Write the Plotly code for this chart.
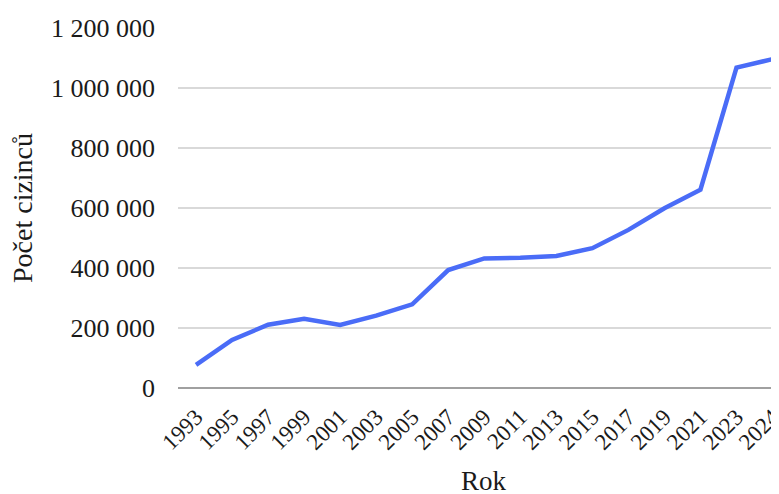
import plotly.graph_objects as go

years = ["1993", "1995", "1997", "1999", "2001", "2003", "2005", "2007", "2009",
         "2011", "2013", "2015", "2017", "2019", "2021", "2023", "2024"]
foreigners = [77000, 160000, 211000, 231000, 210000, 241000, 279000, 393000, 432000,
              434000, 440000, 466000, 527000, 599000, 661000, 1068000, 1096000]
y_ticks = [0, 200000, 400000, 600000, 800000, 1000000, 1200000]

# page offset of the figure (default body margin)
OFF = 8
W, H = 779, 486
L, R, T, B = 178 - OFF, OFF, 28 - OFF, H - (388 - OFF)
pw = W - L - R
ph = H - T - B

fig = go.Figure()
fig.add_trace(go.Scatter(
    x=years, y=foreigners, mode="lines",
    line=dict(color="#4a6cf7", width=4.5),
    hoverinfo="skip",
))

font_family = "Liberation Serif"
txt = "#1a1a1a"
fig.update_layout(
    width=W, height=H,
    margin=dict(l=L, r=R, t=T, b=B, pad=0, autoexpand=False),
    paper_bgcolor="white", plot_bgcolor="white",
    separators=", ",
    showlegend=False,
    font=dict(family=font_family, color=txt),
    xaxis=dict(
        type="category",
        range=[-0.5, 16.18],
        tickangle=-45,
        tickfont=dict(family=font_family, size=23, color=txt),
        showgrid=False, showline=False, zeroline=False,
        ticks="", automargin=False,
        ticklabelstandoff=10,
    ),
    yaxis=dict(
        range=[0, 1200000],
        tickvals=y_ticks,
        tickformat=",d",
        tickfont=dict(family=font_family, size=26, color=txt),
        showgrid=True, gridcolor="#d9d9d9", gridwidth=1.5,
        zeroline=True, zerolinecolor="#a0a0a0", zerolinewidth=1.5,
        showline=False, ticks="", automargin=False,
        ticklabelstandoff=22,
    ),
    annotations=[
        dict(text="Rok", xref="paper", yref="paper",
             x=(484 - OFF - L) / pw, y=-(481 - OFF - (H - B)) / ph,
             xanchor="center", yanchor="middle", showarrow=False,
             font=dict(family=font_family, size=27, color=txt)),
        dict(text="Počet cizinců", xref="paper", yref="paper",
             x=(22 - OFF - L) / pw, y=0.5, textangle=-90,
             xanchor="center", yanchor="middle", showarrow=False,
             font=dict(family=font_family, size=28, color=txt)),
    ],
)

fig.write_html("out.html")
